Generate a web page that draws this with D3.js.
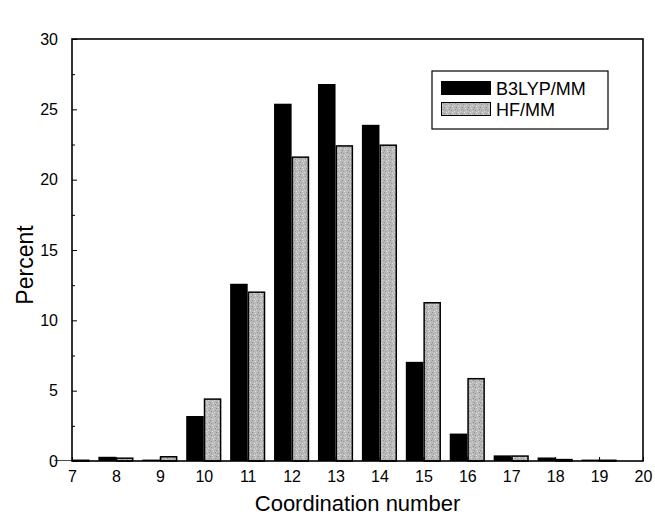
<!DOCTYPE html>
<html>
<head>
<meta charset="utf-8">
<script src="https://cdn.jsdelivr.net/npm/d3@7"></script>
<style>
  html, body { margin: 0; padding: 0; background: #fff; }
  svg { display: block; font-family: "Liberation Sans", Arial, sans-serif; }
</style>
</head>
<body>
<svg id="chart" width="655" height="517"></svg>
<script>
// Coordination number distribution for the two QM/MM levels of theory
const coordNumbers = [7, 8, 9, 10, 11, 12, 13, 14, 15, 16, 17, 18, 19];
const b3lypValues  = [0.05, 0.3, 0.1, 3.2, 12.6, 25.4, 26.8, 23.9, 7.05, 1.95, 0.4, 0.25, 0.1];
const hfValues     = [0.05, 0.2, 0.3, 4.4, 12.0, 21.6, 22.4, 22.45, 11.25, 5.85, 0.35, 0.1, 0.05];
const xTicks = d3.range(7, 21);
const yTicks = [0, 5, 10, 15, 20, 25, 30];
const yMinorTicks = [2.5, 7.5, 12.5, 17.5, 22.5, 27.5];
const seriesNames = ["B3LYP/MM", "HF/MM"];

const svg = d3.select("#chart");
const margin = { left: 72, right: 12, top: 39, bottom: 56 };
const W = 655, H = 517;

const x = d3.scaleLinear().domain([7, 20]).range([margin.left, W - margin.right]);
const y = d3.scaleLinear().domain([0, 30]).range([H - margin.bottom, margin.top]);
const bw = (x(1) - x(0)) * 0.4;

const grayFill = "#b9b9b9";

// Speckled fill for the HF/MM bars
const defs = svg.append("defs");
const pat = defs.append("pattern")
  .attr("id", "speckle").attr("patternUnits", "userSpaceOnUse")
  .attr("width", 6).attr("height", 6);
pat.append("rect").attr("width", 6).attr("height", 6).attr("fill", grayFill);
[[0,0,"#8a8a8a"],[3,1,"#e0e0e0"],[1,3,"#9a9a9a"],[4,4,"#d8d8d8"],[5,2,"#909090"],[2,5,"#e6e6e6"]]
  .forEach(([px, py, c]) => pat.append("rect").attr("x", px).attr("y", py)
    .attr("width", 1).attr("height", 1).attr("fill", c));

// Bars
const g = svg.append("g");
g.selectAll("rect.b3lyp").data(coordNumbers).join("rect")
  .attr("class", "b3lyp")
  .attr("x", d => x(d) - bw)
  .attr("y", (d, i) => y(b3lypValues[i]))
  .attr("width", bw)
  .attr("height", (d, i) => y(0) - y(b3lypValues[i]))
  .attr("fill", "#000");

g.selectAll("rect.hf").data(coordNumbers).join("rect")
  .attr("class", "hf")
  .attr("x", d => x(d) + 0.75)
  .attr("y", (d, i) => y(hfValues[i]))
  .attr("width", bw - 1.5)
  .attr("height", (d, i) => y(0) - y(hfValues[i]))
  .attr("fill", "url(#speckle)")
  .attr("stroke", "#000")
  .attr("stroke-width", 1.5);

// Frame
svg.append("rect")
  .attr("x", margin.left).attr("y", margin.top)
  .attr("width", W - margin.left - margin.right)
  .attr("height", H - margin.top - margin.bottom)
  .attr("fill", "none").attr("stroke", "#000").attr("stroke-width", 1.6);

// Axes with inward ticks
const xAxis = svg.append("g")
  .attr("transform", `translate(0,${y(0)})`)
  .call(d3.axisBottom(x).tickValues(xTicks).tickFormat(d3.format("d"))
    .tickSizeInner(-4).tickSizeOuter(0).tickPadding(10));
xAxis.select(".domain").remove();
xAxis.selectAll("text").attr("font-size", 16).attr("fill", "#000")
  .attr("font-family", "Liberation Sans, Arial, sans-serif");

const yAxis = svg.append("g")
  .attr("transform", `translate(${x(7)},0)`)
  .call(d3.axisLeft(y).tickValues(yTicks).tickFormat(d3.format("d"))
    .tickSizeInner(-5).tickSizeOuter(0).tickPadding(14));
yAxis.select(".domain").remove();
yAxis.selectAll("text").attr("font-size", 16).attr("fill", "#000")
  .attr("font-family", "Liberation Sans, Arial, sans-serif");

const yMinor = svg.append("g")
  .attr("transform", `translate(${x(7)},0)`)
  .call(d3.axisLeft(y).tickValues(yMinorTicks).tickFormat("").tickSizeInner(-3).tickSizeOuter(0));
yMinor.select(".domain").remove();

// Axis titles
svg.append("text")
  .attr("x", (x(7) + x(20)) / 2).attr("y", 511)
  .attr("text-anchor", "middle").attr("font-size", 22)
  .text("Coordination number");

svg.append("text")
  .attr("transform", `translate(33,265) rotate(-90)`)
  .attr("text-anchor", "middle").attr("font-size", 23)
  .text("Percent");

// Legend
const lg = svg.append("g").attr("transform", "translate(432,71)");
lg.append("rect").attr("width", 176).attr("height", 58)
  .attr("fill", "#fff").attr("stroke", "#000").attr("stroke-width", 1.2);
lg.append("rect").attr("x", 9).attr("y", 10).attr("width", 50).attr("height", 14).attr("fill", "#000");
lg.append("rect").attr("x", 9.5).attr("y", 31.5).attr("width", 49).attr("height", 13)
  .attr("fill", "url(#speckle)").attr("stroke", "#000").attr("stroke-width", 1);
lg.append("text").attr("x", 64).attr("y", 24).attr("font-size", 18).text(seriesNames[0]);
lg.append("text").attr("x", 64).attr("y", 45).attr("font-size", 18).text(seriesNames[1]);
</script>
</body>
</html>
